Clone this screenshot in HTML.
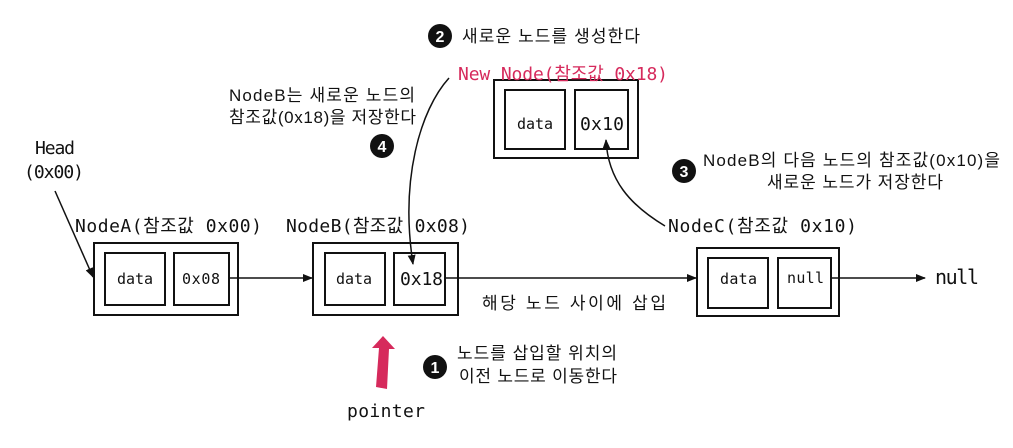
<!DOCTYPE html>
<html><head><meta charset="utf-8"><style>
html,body{margin:0;padding:0;background:#fff;}
svg{display:block;}
.m{font-family:"DejaVu Sans Mono","Liberation Mono","Noto Sans CJK KR",monospace;}
.k{font-family:"Liberation Sans","Noto Sans CJK KR",sans-serif;}
</style></head><body>
<svg width="1013" height="448" viewBox="0 0 1013 448" xmlns="http://www.w3.org/2000/svg">
<defs>
<marker id="a" markerWidth="10" markerHeight="10" refX="9" refY="5" orient="auto" markerUnits="userSpaceOnUse"><path d="M0,1 L10,5 L0,9 Z" fill="#111"/></marker>
</defs>
<g fill="none" stroke="#111" stroke-width="2">
<rect x="94" y="243" width="144" height="72"/>
<rect x="105" y="253" width="60" height="52"/>
<rect x="174" y="253" width="55" height="52"/>
<rect x="313" y="243" width="145" height="72"/>
<rect x="325" y="253" width="60" height="52"/>
<rect x="394" y="253" width="51" height="52"/>
<rect x="697" y="248" width="142" height="68"/>
<rect x="708" y="258" width="60" height="50"/>
<rect x="778" y="258" width="53" height="50"/>
<rect x="494" y="80" width="144" height="78"/>
<rect x="505" y="90" width="60" height="59"/>
<rect x="575" y="90" width="53" height="59"/>
</g>
<g stroke="#111" stroke-width="1.5" fill="none">
<line x1="55" y1="191" x2="93" y2="277" marker-end="url(#a)"/>
<line x1="229" y1="278" x2="312" y2="278" marker-end="url(#a)"/>
<line x1="445" y1="278" x2="696" y2="278" marker-end="url(#a)"/>
<line x1="831" y1="278" x2="925" y2="278" marker-end="url(#a)"/>
<path d="M449,78 C420,110 400,180 413,264" marker-end="url(#a)"/>
<path d="M665,226 C630,205 608,180 606,140" marker-end="url(#a)"/>
</g>
<path d="M383,336 L395,349 L389,349 L387,389 L376,387 L379,348 L372,348 Z" fill="#d62a5c"/>
<g class="m" fill="#111" font-size="15">
<text x="117" y="284" textLength="36">data</text><text x="182" y="284" textLength="38">0x08</text>
<text x="336" y="284" textLength="36">data</text><text x="400" y="285" font-size="18" textLength="43">0x18</text>
<text x="720" y="284" textLength="37">data</text><text x="787" y="283" textLength="37">null</text>
<text x="517" y="129" textLength="36">data</text><text x="580" y="130" font-size="18" textLength="44">0x10</text>
</g>
<g class="m" fill="#111" font-size="18">
<text x="35" y="154" textLength="40">Head</text><text x="24" y="178" textLength="60">(0x00)</text>
<text x="75" y="232" textLength="187">NodeA(참조값 0x00)</text>
<text x="286" y="232" textLength="184">NodeB(참조값 0x08)</text>
<text x="668" y="232" textLength="189">NodeC(참조값 0x10)</text>
<text x="935" y="284" font-size="20" textLength="44">null</text>
<text x="347" y="417" textLength="78">pointer</text>
<text x="458" y="80" fill="#d62a5c" textLength="210">New Node(참조값 0x18)</text>
</g>
<g class="k" fill="#111" font-size="17">
<text x="462" y="42" textLength="178">새로운 노드를 생성한다</text>
<text x="229" y="101" textLength="186">NodeB는 새로운 노드의</text>
<text x="229" y="123" textLength="187">참조값(0x18)을 저장한다</text>
<text x="703" y="166" textLength="297">NodeB의 다음 노드의 참조값(0x10)을</text>
<text x="767" y="188" textLength="176">새로운 노드가 저장한다</text>
<text x="482" y="309" textLength="184">해당 노드 사이에 삽입</text>
<text x="457" y="359" textLength="160">노드를 삽입할 위치의</text>
<text x="459" y="382" textLength="158">이전 노드로 이동한다</text>
</g>
<g font-family="Liberation Sans,sans-serif" font-weight="bold" font-size="16" text-anchor="middle">
<circle cx="440" cy="36" r="12" fill="#111"/><text x="440" y="42" fill="#fff">2</text>
<circle cx="382" cy="146" r="12" fill="#111"/><text x="382" y="152" fill="#fff">4</text>
<circle cx="684" cy="171" r="12" fill="#111"/><text x="684" y="177" fill="#fff">3</text>
<circle cx="435" cy="367" r="12" fill="#111"/><text x="435" y="373" fill="#fff">1</text>
</g>
</svg>
</body></html>
